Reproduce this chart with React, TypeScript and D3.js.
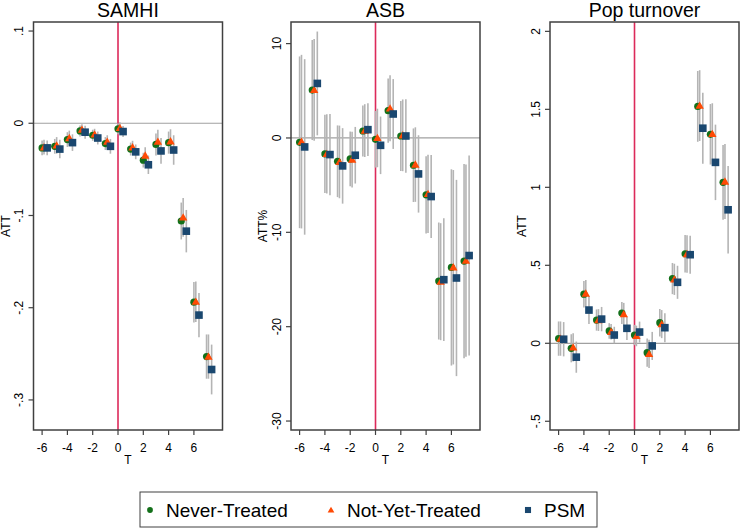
import React from "react";
import * as d3 from "d3";

// event time
const periods = [-6, -5, -4, -3, -2, -1, 0, 1, 2, 3, 4, 5, 6, 7];
const xTicks = [-6, -4, -2, 0, 2, 4, 6];

// SAMHI
const samhiNever = [-0.0267, -0.025, -0.0177, -0.0083, -0.013, -0.022, -0.006, -0.028, -0.04, -0.023, -0.021, -0.106, -0.194, -0.253];
const samhiNotYet = [-0.026, -0.024, -0.016, -0.007, -0.012, -0.02, -0.005, -0.026, -0.035, -0.02, -0.0195, -0.102, -0.1935, -0.253];
const samhiPsm = [-0.0267, -0.028, -0.021, -0.0097, -0.016, -0.025, -0.009, -0.031, -0.045, -0.03, -0.029, -0.117, -0.208, -0.267];
const samhiNeverCi = [0.008, 0.008, 0.008, 0.006, 0.006, 0.007, 0.006, 0.007, 0.008, 0.012, 0.012, 0.02, 0.022, 0.024];
const samhiNotYetCi = [0.008, 0.009, 0.008, 0.006, 0.006, 0.007, 0.006, 0.007, 0.009, 0.013, 0.013, 0.021, 0.022, 0.024];
const samhiPsmCi = [0.008, 0.01, 0.009, 0.007, 0.007, 0.008, 0.006, 0.008, 0.01, 0.014, 0.016, 0.023, 0.024, 0.027];
const samhiTicks = [0.1, 0, -0.1, -0.2, -0.3];
const samhiTickLabels = [".1", "0", "-.1", "-.2", "-.3"];

// ASB
const asbNever = [-0.46, 5.08, -1.69, -2.47, -2.22, 0.74, -0.14, 2.89, 0.21, -2.89, -6.03, -15.16, -13.72, -13.05];
const asbNotYet = [-0.39, 5.1, -1.69, -2.54, -2.29, 0.78, 0.0, 3.14, 0.28, -2.82, -5.93, -15.23, -13.7, -13.0];
const asbPsm = [-0.95, 5.78, -1.76, -2.96, -1.83, 0.88, -0.78, 2.54, 0.21, -3.81, -6.21, -15.02, -14.84, -12.46];
const asbNeverCi = [9.1, 5.3, 4.15, 3.8, 2.9, 2.7, 3.0, 3.4, 3.7, 3.9, 4.1, 6.2, 10.4, 10.3];
const asbNotYetCi = [9.2, 5.4, 4.2, 3.85, 2.95, 2.8, 3.1, 3.5, 3.8, 3.95, 4.15, 6.2, 10.3, 10.2];
const asbPsmCi = [9.3, 5.5, 4.3, 4.0, 3.0, 2.8, 3.05, 3.7, 3.9, 4.1, 4.4, 6.5, 10.4, 10.6];
const asbTicks = [10, 0, -10, -20, -30];
const asbTickLabels = ["10", "0", "-10", "-20", "-30"];

// Pop turnover
const popNever = [0.03, -0.032, 0.315, 0.149, 0.079, 0.194, 0.053, -0.06, 0.132, 0.415, 0.574, 1.519, 1.34, 1.032];
const popNotYet = [0.03, -0.026, 0.319, 0.149, 0.074, 0.187, 0.047, -0.068, 0.123, 0.41, 0.572, 1.524, 1.343, 1.037];
const popPsm = [0.026, -0.089, 0.213, 0.155, 0.053, 0.096, 0.072, -0.017, 0.1, 0.391, 0.568, 1.379, 1.16, 0.856];
const popNeverCi = [0.11, 0.09, 0.085, 0.068, 0.05, 0.07, 0.065, 0.09, 0.088, 0.1, 0.12, 0.227, 0.194, 0.24];
const popNotYetCi = [0.11, 0.09, 0.087, 0.07, 0.05, 0.072, 0.066, 0.09, 0.09, 0.1, 0.12, 0.227, 0.196, 0.24];
const popPsmCi = [0.11, 0.1, 0.09, 0.078, 0.053, 0.075, 0.067, 0.09, 0.093, 0.106, 0.122, 0.228, 0.242, 0.28];
const popTicks = [2, 1.5, 1, 0.5, 0, -0.5];
const popTickLabels = ["2", "1.5", "1", ".5", "0", "-.5"];

const legendLabels = ["Never-Treated", "Not-Yet-Treated", "PSM"];

const GREEN = "#13701a";
const ORANGE = "#ff4a05";
const NAVY = "#1a476f";
const FONT = "'Liberation Sans', Arial, sans-serif";

const offsets = [0, 0.15, 0.4];

const panels = [
  {
    title: "SAMHI", ylab: "ATT", left: 33.5, domain: [-0.3326, 0.1098],
    series: [samhiNever, samhiNotYet, samhiPsm], ci: [samhiNeverCi, samhiNotYetCi, samhiPsmCi],
    ticks: samhiTicks, tickLabels: samhiTickLabels,
  },
  {
    title: "ASB", ylab: "ATT%", left: 291, domain: [-30.95, 12.29],
    series: [asbNever, asbNotYet, asbPsm], ci: [asbNeverCi, asbNotYetCi, asbPsmCi],
    ticks: asbTicks, tickLabels: asbTickLabels,
  },
  {
    title: "Pop turnover", ylab: "ATT", left: 550, domain: [-0.556, 2.06],
    series: [popNever, popNotYet, popPsm], ci: [popNeverCi, popNotYetCi, popPsmCi],
    ticks: popTicks, tickLabels: popTickLabels,
  },
];

const PW = 189;
const TOP = 22;
const BOTTOM = 430;

const Marker = ({ kind, x, y, s = 1 }) => {
  if (kind === 0) return <circle cx={x} cy={y} r={3.6 * s} fill={GREEN} />;
  if (kind === 1) {
    const h = 4.2 * s;
    return (
      <path
        d={`M${x},${y - h} L${x + h},${y + h * 0.75} L${x - h},${y + h * 0.75} Z`}
        fill={ORANGE}
      />
    );
  }
  const a = 3.8 * s;
  return <rect x={x - a} y={y - a} width={2 * a} height={2 * a} fill={NAVY} />;
};

const Panel = ({ p }) => {
  const x = d3.scaleLinear().domain([-6.68, 8.26]).range([p.left, p.left + PW]);
  const y = d3.scaleLinear().domain(p.domain).range([BOTTOM, TOP]);
  const cx = p.left + PW / 2;
  return (
    <g>
      <text x={cx} y={16.5} textAnchor="middle" fontSize={19.5} fontFamily={FONT} fill="#000">
        {p.title}
      </text>
      <line x1={p.left} x2={p.left + PW} y1={y(0)} y2={y(0)} stroke="#a0a0a0" strokeWidth={1.2} />
      <line x1={x(0)} x2={x(0)} y1={TOP} y2={BOTTOM} stroke="#dc2a5a" strokeWidth={1.6} />
      {/* confidence intervals */}
      {p.series.map((vals, k) =>
        vals.map((v, i) => (
          <line
            key={`ci${k}-${i}`}
            x1={x(periods[i] + offsets[k])}
            x2={x(periods[i] + offsets[k])}
            y1={y(v - p.ci[k][i])}
            y2={y(v + p.ci[k][i])}
            stroke="#b4b4b4"
            strokeWidth={1.6}
          />
        ))
      )}
      {p.series.map((vals, k) =>
        vals.map((v, i) => (
          <Marker key={`m${k}-${i}`} kind={k} x={x(periods[i] + offsets[k])} y={y(v)} />
        ))
      )}
      <rect x={p.left} y={TOP} width={PW} height={BOTTOM - TOP} fill="none" stroke="#404040" strokeWidth={1.5} />
      {/* y axis */}
      {p.ticks.map((t, i) => (
        <g key={`yt${i}`}>
          <line x1={p.left - 5} x2={p.left} y1={y(t)} y2={y(t)} stroke="#404040" strokeWidth={1.2} />
          <text
            transform={`translate(${p.left - 10.5},${y(t)}) rotate(-90)`}
            textAnchor="middle"
            fontSize={12}
            fontFamily={FONT}
            fill="#000"
          >
            {p.tickLabels[i]}
          </text>
        </g>
      ))}
      <text
        transform={`translate(${p.left - 24},${(TOP + BOTTOM) / 2}) rotate(-90)`}
        textAnchor="middle"
        fontSize={12}
        fontFamily={FONT}
        fill="#000"
      >
        {p.ylab}
      </text>
      {/* x axis */}
      {xTicks.map((t) => (
        <g key={`xt${t}`}>
          <line x1={x(t)} x2={x(t)} y1={BOTTOM} y2={BOTTOM + 5} stroke="#404040" strokeWidth={1.2} />
          <text x={x(t)} y={452} textAnchor="middle" fontSize={12} fontFamily={FONT} fill="#000">
            {t}
          </text>
        </g>
      ))}
      <text x={cx} y={463.5} textAnchor="middle" fontSize={12} fontFamily={FONT} fill="#000">
        T
      </text>
    </g>
  );
};

export default function App() {
  const legendX = [150, 331, 528];
  const textX = [166, 347, 544];
  return (
    <svg
      width={740}
      height={529}
      style={{ position: "absolute", left: 0, top: 0, background: "#fff" }}
    >
      <rect width={740} height={529} fill="#fff" />
      {panels.map((p) => (
        <Panel key={p.title} p={p} />
      ))}
      <rect x={140} y={492} width={457} height={35} fill="#fff" stroke="#404040" strokeWidth={1} />
      {legendLabels.map((l, k) => (
        <g key={l}>
          <Marker kind={k} x={legendX[k]} y={510} s={0.8} />
          <text x={textX[k]} y={517} fontSize={19} fontFamily={FONT} fill="#000">
            {l}
          </text>
        </g>
      ))}
    </svg>
  );
}
